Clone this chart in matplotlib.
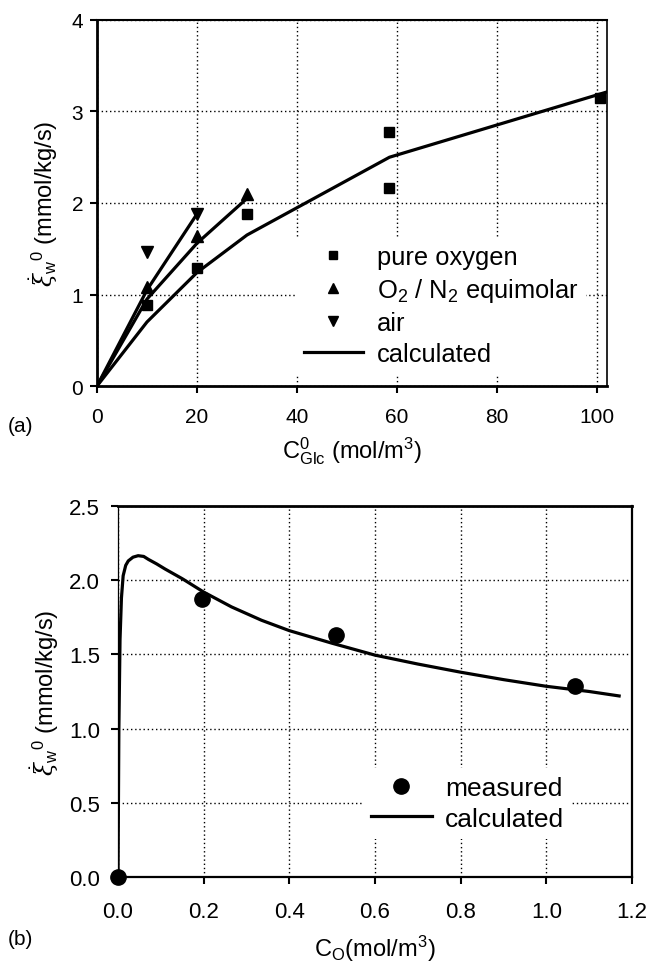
import matplotlib
matplotlib.use('Agg')
import matplotlib.pyplot as plt
from matplotlib.lines import Line2D

plt.rcParams['font.family'] = ['Liberation Sans', 'DejaVu Sans']
plt.rcParams['mathtext.fontset'] = 'custom'
plt.rcParams['mathtext.rm'] = 'Liberation Sans'
plt.rcParams['mathtext.it'] = 'DejaVu Serif:italic'
plt.rcParams['mathtext.bf'] = 'Liberation Sans:bold'

# panel (a): measured points
pure_x = [10, 20, 30, 58.5, 58.5, 100.6]
pure_y = [0.88, 1.29, 1.88, 2.78, 2.16, 3.15]
equi_x = [10, 20, 30]
equi_y = [1.08, 1.64, 2.10]
air_x = [10, 20]
air_y = [1.46, 1.88]

# panel (a): calculated curves
calc_pure_x = [0, 10, 20, 30, 58.5, 101.8]
calc_pure_y = [0, 0.70, 1.24, 1.65, 2.50, 3.21]
calc_equi_x = [0, 10, 20, 30]
calc_equi_y = [0, 0.95, 1.56, 2.05]
calc_air_x = [0, 10, 20]
calc_air_y = [0, 1.05, 1.88]

# panel (b)
meas_x = [0.0, 0.196, 0.51, 1.068]
meas_y = [0.0, 1.87, 1.63, 1.285]
calc_b_x = [0, 0.002, 0.0047, 0.008, 0.012, 0.018, 0.024, 0.035, 0.047,
            0.06, 0.071, 0.09, 0.11, 0.15, 0.2, 0.265, 0.335, 0.4, 0.5,
            0.6, 0.7, 0.8, 0.9, 1.0, 1.1, 1.17]
calc_b_y = [0, 1.0, 1.60, 1.88, 2.03, 2.10, 2.13, 2.155, 2.165,
            2.16, 2.14, 2.11, 2.075, 2.01, 1.92, 1.82, 1.73, 1.66, 1.575,
            1.495, 1.435, 1.38, 1.33, 1.285, 1.25, 1.22]

ylabel = r'$\dot{\xi}_{\mathrm{w}}{}^{\mathrm{0}}$ (mmol/kg/s)'
grid_style = dict(color='black', linestyle=(0, (1, 2)), linewidth=1.0)

fig = plt.figure(figsize=(6.52, 9.62), dpi=100)

# ---------- (a) ----------
ax1 = fig.add_axes([0.1488, 0.5977, 0.782, 0.3805])
lw = 2.3
ax1.plot(calc_pure_x, calc_pure_y, color='black', lw=lw, zorder=3)
ax1.plot(calc_equi_x, calc_equi_y, color='black', lw=lw, zorder=3)
ax1.plot(calc_air_x, calc_air_y, color='black', lw=lw, zorder=3)
ax1.plot(pure_x, pure_y, 's', color='black', ms=7.5, zorder=4)
ax1.plot(equi_x, equi_y, '^', color='black', ms=8.5, zorder=4)
ax1.plot(air_x, air_y, 'v', color='black', ms=8.5, zorder=4)

ax1.set_xlim(0, 102)
ax1.set_ylim(0, 4)
ax1.set_xticks([0, 20, 40, 60, 80, 100])
ax1.set_yticks([0, 1, 2, 3, 4])
ax1.grid(True, **grid_style)
ax1.tick_params(direction='out', length=5, width=1.5, labelsize=15)
ax1.tick_params(axis='x', pad=10)
ax1.tick_params(axis='y', pad=5)
ax1.spines['left'].set_linewidth(2.0)
ax1.spines['bottom'].set_linewidth(2.0)
ax1.spines['top'].set_linewidth(1.5)
ax1.spines['right'].set_linewidth(1.2)
ax1.set_ylabel(ylabel, fontsize=17, labelpad=8)
ax1.set_xlabel(r'$\mathrm{C}^{\mathrm{0}}_{\mathrm{Glc}}$ (mol/m$^{\mathrm{3}}$)',
               fontsize=17, labelpad=6)

handles_a = [
    Line2D([], [], marker='s', ls='none', color='black', ms=6),
    Line2D([], [], marker='^', ls='none', color='black', ms=6.5),
    Line2D([], [], marker='v', ls='none', color='black', ms=6.5),
    Line2D([], [], color='black', lw=lw),
]
labels_a = ['pure oxygen', r'O$_{\mathrm{2}}$ / N$_{\mathrm{2}}$ equimolar', 'air', 'calculated']
leg = ax1.legend(handles_a, labels_a, loc='lower right', bbox_to_anchor=(0.985, -0.002),
                 fontsize=18.4, frameon=True, facecolor='white', edgecolor='none',
                 framealpha=1, fancybox=False, handlelength=2.3, handletextpad=0.55,
                 labelspacing=0.28, borderpad=0.3)
leg.get_frame().set_linewidth(0)

fig.text(0.012, 0.557, '(a)', fontsize=15, va='center', ha='left')

# ---------- (b) ----------
ax2 = fig.add_axes([0.181, 0.0873, 0.7883, 0.3857])
ax2.plot(calc_b_x, calc_b_y, color='black', lw=2.3, zorder=3)
ax2.plot(meas_x, meas_y, 'o', color='black', ms=11, zorder=4, clip_on=False)

ax2.set_xlim(0, 1.2)
ax2.set_ylim(0, 2.5)
ax2.set_xticks([0.0, 0.2, 0.4, 0.6, 0.8, 1.0, 1.2])
ax2.set_yticks([0.0, 0.5, 1.0, 1.5, 2.0, 2.5])
ax2.set_xticklabels(['0.0', '0.2', '0.4', '0.6', '0.8', '1.0', '1.2'])
ax2.set_yticklabels(['0.0', '0.5', '1.0', '1.5', '2.0', '2.5'])
ax2.grid(True, **grid_style)
ax2.tick_params(direction='out', length=5, width=1.5, labelsize=16)
ax2.tick_params(axis='x', pad=12)
ax2.tick_params(axis='y', pad=8)
ax2.spines['left'].set_linewidth(0.9)
ax2.spines['bottom'].set_linewidth(1.6)
ax2.spines['top'].set_linewidth(2.0)
ax2.spines['right'].set_linewidth(1.6)
ax2.set_ylabel(ylabel, fontsize=17, labelpad=6)
ax2.set_xlabel(r'C$_{\mathrm{O}}$(mol/m$^{\mathrm{3}}$)', fontsize=17, labelpad=8)

handles_b = [
    Line2D([], [], marker='o', ls='none', color='black', ms=11),
    Line2D([], [], color='black', lw=2.3),
]
leg2 = ax2.legend(handles_b, ['measured', 'calculated'], loc='lower right',
                  bbox_to_anchor=(0.909, 0.068), fontsize=19, frameon=True,
                  facecolor='white', edgecolor='none', framealpha=1, fancybox=False,
                  handlelength=2.3, handletextpad=0.5, labelspacing=0.25,
                  borderpad=0.3)
leg2.get_frame().set_linewidth(0)

fig.text(0.012, 0.023, '(b)', fontsize=15, va='center', ha='left')

fig.savefig('out.png', dpi=100)
